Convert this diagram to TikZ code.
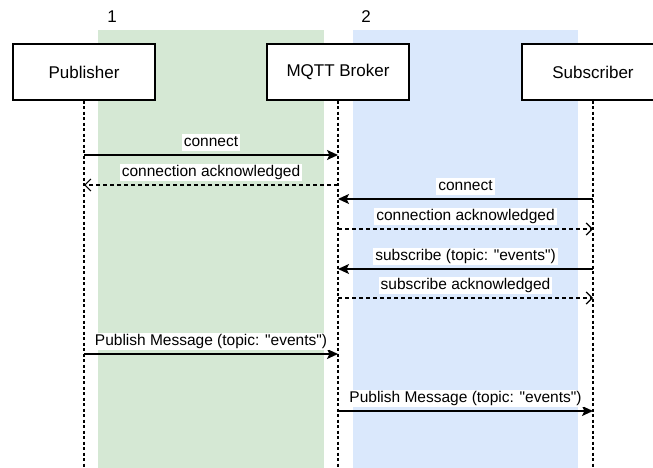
\documentclass[tikz,border=0pt]{standalone}
\usepackage{fontspec}
\setmainfont{Liberation Sans}
\usetikzlibrary{arrows.meta}
\definecolor{zonegreen}{RGB}{213,232,212}
\definecolor{zoneblue}{RGB}{218,232,252}

\begin{document}
\begin{tikzpicture}[x=1pt,y=-1pt,
      actor/.style={draw,line width=1.2pt,fill=white,minimum width=142pt,minimum height=56pt,font=\fontsize{17}{20}\selectfont},
      lifeline/.style={line width=1.2pt,dash pattern=on 3pt off 2.5pt},
      call/.style={line width=1.4pt,-{Stealth[length=11pt,width=10pt,inset=2.5pt]}},
      reply/.style={line width=1.2pt,dash pattern=on 4pt off 3pt,-{Straight Barb[length=6pt,width=12pt,line width=1.2pt]}},
      msg/.style={fill=white,inner xsep=2pt,inner ysep=1pt,text height=11.5pt,text depth=3.5pt,font=\fontsize{15.5}{18}\selectfont}]

  \useasboundingbox (0,0) rectangle (653,468);
  \clip (0,0) rectangle (653,468);

  % zones
  \fill[zonegreen] (98,30) rectangle (324,468);
  \fill[zoneblue] (353,30) rectangle (578,468);
  \node[font=\fontsize{17}{20}\selectfont] (one) at (112,17) {1};
  \node[font=\fontsize{17}{20}\selectfont] (two) at (366,17) {2};

  % actors
  \node[actor] (pub) at (84,72) {Publisher};
  \node[actor] (brk) at (338,72) {MQTT Broker};
  \node[actor] (sub) at (593,72) {Subscriber};

  % lifelines
  \coordinate (pubend) at (84,468);
  \coordinate (brkend) at (338,468);
  \coordinate (subend) at (593,468);
  \draw[lifeline] (pub) -- (pubend);
  \draw[lifeline] (brk) -- (brkend);
  \draw[lifeline] (sub) -- (subend);

  % messages
  \foreach \y/\from/\to/\kind/\txt in {
      155/pub/brk/call/connect,
      185/brk/pub/reply/connection acknowledged,
      199/sub/brk/call/connect,
      229/brk/sub/reply/connection acknowledged,
      269/sub/brk/call/subscribe (topic: \textquotedbl events\textquotedbl),
      298/brk/sub/reply/subscribe acknowledged,
      354/pub/brk/call/Publish Message (topic: \textquotedbl events\textquotedbl),
      411/brk/sub/call/Publish Message (topic: \textquotedbl events\textquotedbl)}
    \draw[\kind] (\from |- 0,\y) -- node[msg,yshift=12.5pt] {\txt} (\to |- 0,\y);
\end{tikzpicture}
\end{document}
